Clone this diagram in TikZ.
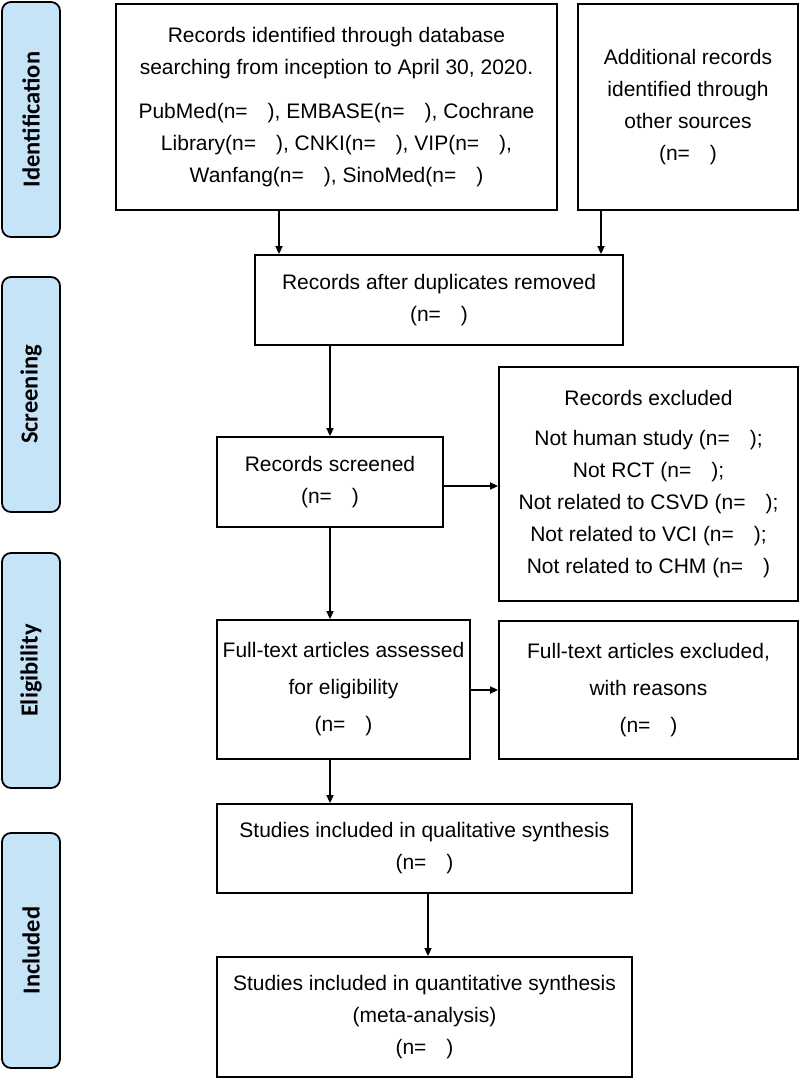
\documentclass[tikz,border=0pt]{standalone}
\usepackage{fontspec}
\setmainfont{Liberation Sans}
\newfontfamily\labfont{Carlito}
\usetikzlibrary{arrows.meta}
\definecolor{labfill}{HTML}{C6E4F8}
\newcommand\nnx{(n=\hspace{0.95em})}
\tikzset{
  box/.style={draw=black, line width=1.8pt, fill=white, inner sep=0pt, align=center,
    font=\fontsize{21}{32}\selectfont},
  lab/.style={draw=black, line width=1.8pt, fill=labfill, rounded corners=9pt, inner sep=0pt,
    minimum width=58pt},
  labtext/.style={rotate=90, font=\labfont\bfseries\fontsize{24.5}{28}\selectfont},
  arr/.style={line width=1.6pt, -{Triangle[length=8pt,width=7pt]}}
}
\begin{document}
\begin{tikzpicture}[x=1pt,y=-1pt]
\useasboundingbox (0,0) rectangle (800,1079);
% side labels
\node[lab, minimum height=235pt] (l1) at (31,119.5) {};
\node[labtext] (t1) at (l1.center) {Identification};
\node[lab, minimum height=235pt] (l2) at (31,394.5) {};
\node[labtext] (t2) at (l2.center) {Screening};
\node[lab, minimum height=235pt] (l3) at (31,670.5) {};
\node[labtext] (t3) at (l3.center) {Eligibility};
\node[lab, minimum height=235pt] (l4) at (31,950.5) {};
\node[labtext] (t4) at (l4.center) {Included};
% main boxes
\node[box, minimum width=441pt, minimum height=206pt] (b1) at (336.5,107)
  {Records identified through database\\searching from inception to April 30, 2020.\\[12pt]
   PubMed\nnx, EMBASE\nnx, Cochrane\\Library\nnx, CNKI\nnx, VIP\nnx,\\Wanfang\nnx, SinoMed\nnx};
\node[box, minimum width=220pt, minimum height=206pt] (b2) at (688,107)
  {Additional records\\identified through\\other sources\\\nnx};
\node[box, minimum width=368pt, minimum height=90pt] (b3) at (439,300)
  {Records after duplicates removed\\\nnx};
\node[box, minimum width=226pt, minimum height=90pt] (b4) at (330,482)
  {Records screened\\\nnx};
\node[box, minimum width=299pt, minimum height=234pt] (b5) at (648.5,484)
  {Records excluded\\[8pt]Not human study \nnx;\\Not RCT \nnx;\\Not related to CSVD \nnx;\\Not related to VCI \nnx;\\Not related to CHM \nnx};
\node[box, minimum width=253pt, minimum height=139pt, font=\fontsize{21}{37}\selectfont] (b6) at (343.5,689.5)
  {Full-text articles assessed\\for eligibility\\\nnx};
\node[box, minimum width=299pt, minimum height=138pt, font=\fontsize{21}{37}\selectfont] (b7) at (648.5,690)
  {Full-text articles excluded,\\with reasons\\\nnx};
\node[box, minimum width=415pt, minimum height=89pt] (b8) at (424.5,848.5)
  {Studies included in qualitative synthesis\\\nnx};
\node[box, minimum width=415pt, minimum height=120pt] (b9) at (424.5,1017)
  {Studies included in quantitative synthesis\\(meta-analysis)\\\nnx};
% connector guides
\coordinate (xa) at (279,0);
\coordinate (xb) at (601,0);
\coordinate (xc) at (330,0);
\coordinate (xd) at (428,0);
\coordinate (ya) at (0,486);
\coordinate (yb) at (0,690);
\draw[arr] (xa |- b1.south) -- (xa |- b3.north);
\draw[arr] (xb |- b2.south) -- (xb |- b3.north);
\draw[arr] (xc |- b3.south) -- (xc |- b4.north);
\draw[arr] (b4.east |- ya) -- (b5.west |- ya);
\draw[arr] (xc |- b4.south) -- (xc |- b6.north);
\draw[arr] (b6.east |- yb) -- (b7.west |- yb);
\draw[arr] (xc |- b6.south) -- (xc |- b8.north);
\draw[arr] (xd |- b8.south) -- (xd |- b9.north);
\end{tikzpicture}
\end{document}
